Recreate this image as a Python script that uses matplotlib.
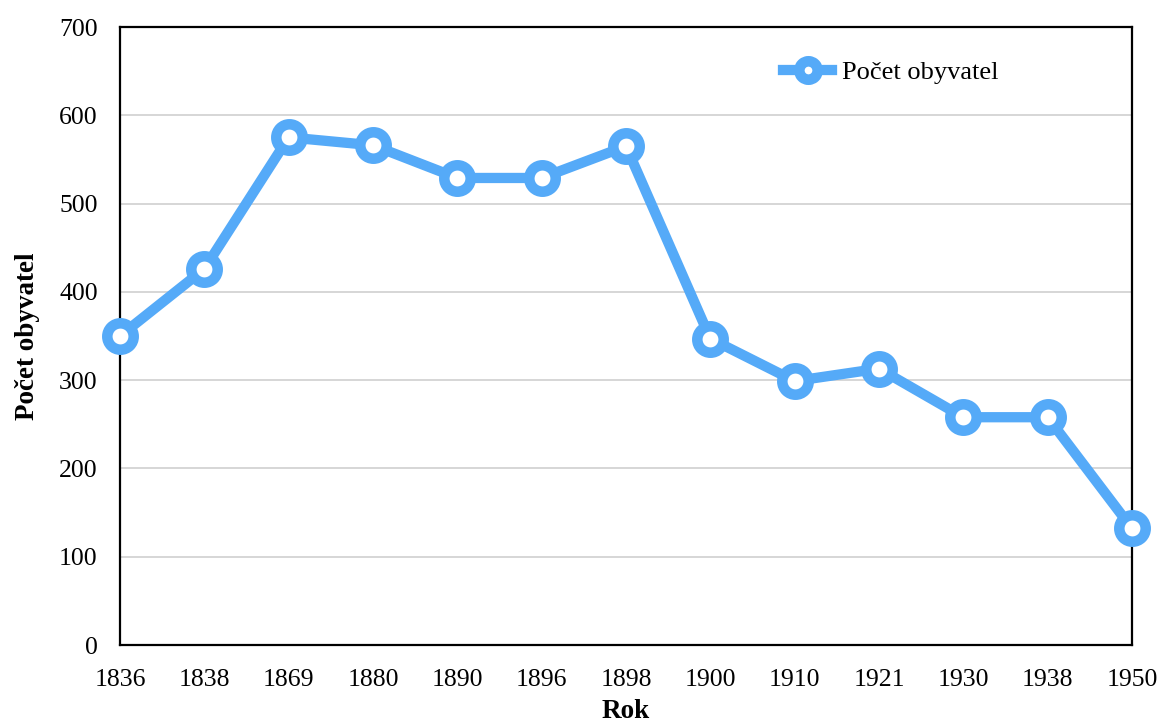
import matplotlib
matplotlib.use("Agg")
import matplotlib.pyplot as plt

years = ["1836", "1838", "1869", "1880", "1890", "1896", "1898",
         "1900", "1910", "1921", "1930", "1938", "1950"]
population = [350, 426, 575, 566, 529, 529, 565, 347, 299, 313, 258, 258, 132]
y_ticks = [0, 100, 200, 300, 400, 500, 600, 700]

plt.rcParams['font.family'] = ['Liberation Serif', 'DejaVu Serif']

fig = plt.figure(figsize=(11.62, 7.26), dpi=100)
ax = fig.add_axes([120/1162, 1 - 645/726, (1132-120)/1162, (645-27)/726])

color = '#55AAF8'
x = list(range(len(years)))
ax.plot(x, population, color=color, lw=7.4, marker='o', ms=19,
        mfc='white', mec=color, mew=7.6, label='Počet obyvatel', zorder=3,
        clip_on=False)

ax.set_xlim(0, len(years) - 1)
ax.set_ylim(0, 700)
ax.set_xticks(x)
ax.set_xticklabels(years)
ax.set_yticks(y_ticks)
ax.tick_params(length=0, labelsize=18.5)
ax.tick_params(axis='x', pad=17)
ax.tick_params(axis='y', pad=16)
ax.yaxis.grid(True, color='#CFCFCF', lw=1.2)
ax.set_axisbelow(True)
for s in ax.spines.values():
    s.set_linewidth(1.6)
    s.set_color('black')

ax.set_xlabel('Rok', fontsize=19.5, fontweight='bold', labelpad=6)
ax.set_ylabel('Počet obyvatel', fontsize=19.5, fontweight='bold', labelpad=14)

leg = ax.legend(loc='center left', bbox_to_anchor=(0.632, 0.927), frameon=False,
                fontsize=19, handlelength=1.85, markerscale=0.7, handletextpad=0.38)

fig.savefig('out.png', dpi=100)
